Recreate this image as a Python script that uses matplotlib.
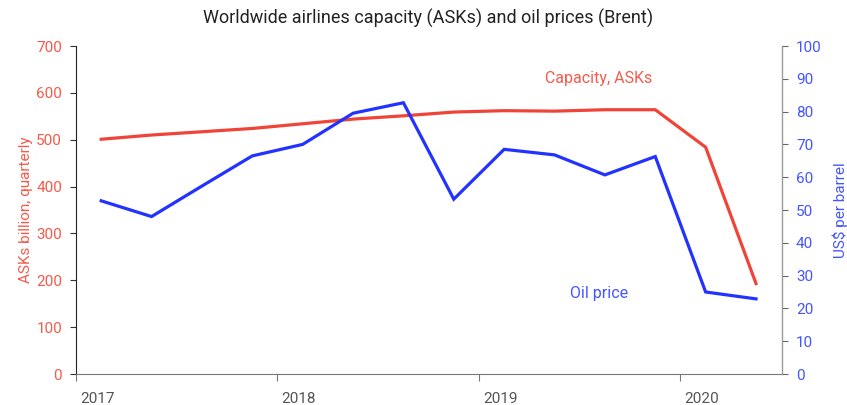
import matplotlib
matplotlib.use("Agg")
import matplotlib.pyplot as plt
import matplotlib.transforms as mtransforms

plt.rcParams['font.family'] = ['Roboto', 'DejaVu Sans']

quarters = ["2017Q1", "2017Q2", "2017Q3", "2017Q4",
            "2018Q1", "2018Q2", "2018Q3", "2018Q4",
            "2019Q1", "2019Q2", "2019Q3", "2019Q4",
            "2020Q1", "2020Q2"]
capacity_asks = [501, 510, 517, 524, 534, 544, 551, 559, 562, 561, 564, 564, 484, 193]
oil_price = [52.8, 48.0, 57.3, 66.5, 70.0, 79.5, 82.7, 53.3, 68.5, 66.8, 60.7, 66.3, 25.0, 22.9]
year_ticks = [2017, 2018, 2019, 2020]

RED_LINE = '#F04438'
RED_TEXT = '#F55A4B'
BLUE_LINE = '#2233FF'
BLUE_TEXT = '#4455FF'

def qpos(q):
    y, n = q.split("Q")
    return int(y) + (int(n) - 0.5) / 4

x = [qpos(q) for q in quarters]

fig = plt.figure(figsize=(8.47, 4.05), dpi=100)
ax = fig.add_axes([76/847, 1-374/405, (782-76)/847, (374-46)/405])
ax2 = ax.twinx()

ax.plot(x, capacity_asks, color=RED_LINE, lw=2.3, solid_joinstyle='miter', zorder=3)
ax2.plot(x, oil_price, color=BLUE_LINE, lw=2.3, solid_joinstyle='miter', zorder=3)

ax.set_xlim(2017, 2020.504)
ax.set_ylim(0, 700)
ax2.set_ylim(0, 100)
ax.set_yticks(range(0, 701, 100))
ax2.set_yticks(range(0, 101, 10))
ax.set_xticks(year_ticks)
ax.set_xticklabels([str(y) for y in year_ticks])

for a in (ax, ax2):
    a.spines['top'].set_visible(False)
ax.spines['left'].set_color('#222222')
ax.spines['bottom'].set_color('#777777')
ax2.spines['right'].set_color('#999999')
ax2.spines['left'].set_visible(False)
ax2.spines['bottom'].set_visible(False)

ax.tick_params(axis='y', colors='#333333', labelcolor=RED_TEXT, labelsize=11, length=4, pad=6)
ax2.tick_params(axis='y', colors='#666666', labelcolor=BLUE_TEXT, labelsize=11, length=4, pad=6)
ax.tick_params(axis='x', colors='#777777', labelcolor='#555555', labelsize=11, length=5, pad=8)

offset = mtransforms.ScaledTranslation(4/100, 0, fig.dpi_scale_trans)
for lbl in ax.get_xticklabels():
    lbl.set_horizontalalignment('left')
    lbl.set_transform(lbl.get_transform() + offset)

ax.set_ylabel("ASKs billion, quarterly", color=RED_TEXT, fontsize=11, labelpad=2)
ax2.set_ylabel("US$ per barrel", color=BLUE_TEXT, fontsize=11, labelpad=8)

fig.text(0.505, 1-18/405, "Worldwide airlines capacity (ASKs) and oil prices (Brent)",
         ha='center', va='center', fontsize=13, color='#222222')

ax.text(2019.33, 630, "Capacity, ASKs", color=RED_TEXT, fontsize=11.5, ha='left', va='center')
ax2.text(2019.45, 24.5, "Oil price", color=BLUE_TEXT, fontsize=11.5, ha='left', va='center')

fig.savefig("out.png", dpi=100)
